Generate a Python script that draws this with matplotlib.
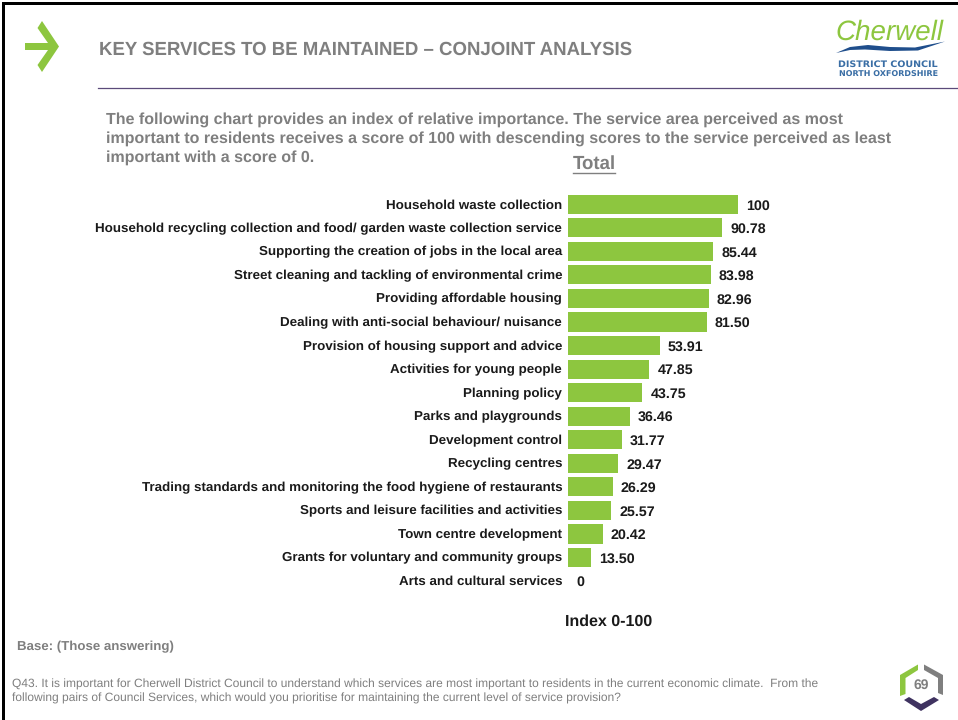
import matplotlib

matplotlib.use("Agg", force=True)
import matplotlib.pyplot as plt
from matplotlib import patches
from matplotlib.transforms import ScaledTranslation

services = [
    "Household waste collection",
    "Household recycling collection and food/ garden waste collection service",
    "Supporting the creation of jobs in the local area",
    "Street cleaning and tackling of environmental crime",
    "Providing affordable housing",
    "Dealing with anti-social behaviour/ nuisance",
    "Provision of housing support and advice",
    "Activities for young people",
    "Planning policy",
    "Parks and playgrounds",
    "Development control",
    "Recycling centres",
    "Trading standards and monitoring the food hygiene of restaurants",
    "Sports and leisure facilities and activities",
    "Town centre development",
    "Grants for voluntary and community groups",
    "Arts and cultural services",
]
scores = [100, 90.78, 85.44, 83.98, 82.96, 81.50, 53.91, 47.85, 43.75, 36.46,
          31.77, 29.47, 26.29, 25.57, 20.42, 13.50, 0]
score_labels = ["100", "90.78", "85.44", "83.98", "82.96", "81.50", "53.91", "47.85",
                "43.75", "36.46", "31.77", "29.47", "26.29", "25.57", "20.42", "13.50", "0"]

GREEN = "#8DC63F"
GREY = "#7F7F7F"
PURPLE = "#5B4A7A"
LOGO_BLUE = "#3A6EA5"
DARK = "#1A1A1A"
W, H = 958, 720

plt.rcParams["font.family"] = ["Liberation Sans", "DejaVu Sans"]
plt.rcParams["text.hinting"] = "no_hinting"

figure = plt.figure(figsize=(W / 100, H / 100), dpi=100)
figure.patch.set_facecolor("white")

# page furniture in pixel coordinates
page = figure.add_axes([0, 0, 1, 1])
page.set_xlim(0, W)
page.set_ylim(H, 0)
page.axis("off")

page.add_patch(patches.Rectangle((2, 2), W - 2, 3.3, color="black", lw=0))
page.add_patch(patches.Rectangle((2, 2), 3.3, H - 2, color="black", lw=0))
page.plot([98, W], [87.5, 87.5], color=PURPLE, linewidth=0.9)

page.add_patch(patches.Polygon(
    [[25, 43], [48, 43], [37.5, 28], [42, 21], [59, 46.5], [42, 72], [37.5, 65], [48, 50], [25, 50]],
    closed=True, facecolor=GREEN, edgecolor="none"))

page.text(99, 49.5, "KEY SERVICES TO BE MAINTAINED – CONJOINT ANALYSIS", fontsize=13.4,
          fontweight="bold", color=GREY, ha="left", va="center")

# logo
page.text(889.5, 32.5, "Cherwell", fontsize=20, style="italic", color=GREEN, ha="center", va="center")
page.add_patch(patches.Polygon(
    [[836, 53], [850, 47], [868, 45], [890, 47], [915, 47.5], [945, 41.5], [918, 50.5], [890, 51], [865, 49.5], [850, 50]],
    closed=True, facecolor="#1F4E8C", edgecolor="none"))
page.text(888, 64.5, "DISTRICT COUNCIL", fontsize=6.8, fontweight="bold", color=LOGO_BLUE,
          family="DejaVu Sans", ha="center", va="center")
page.text(888.5, 75, "NORTH OXFORDSHIRE", fontsize=5.8, fontweight="bold", color=LOGO_BLUE,
          family="DejaVu Sans", ha="center", va="center")

intro_lines = [
    "The following chart provides an index of relative importance. The service area perceived as most",
    "important to residents receives a score of 100 with descending scores to the service perceived as least",
    "important with a score of 0.",
]
for y_value, line in zip((119.5, 138.5, 157.5), intro_lines):
    page.text(106, y_value, line, fontsize=11.5, fontweight="bold", color=GREY, ha="left", va="center")

page.text(594, 163.5, "Total", fontsize=13.4, fontweight="bold", color=GREY, ha="center", va="center")
page.plot([573, 615.5], [172.5, 172.5], color=GREY, linewidth=1.0)

page.text(609, 621.5, "Index 0-100", fontsize=11.5, fontweight="bold", color=DARK,
          ha="center", va="center")
page.text(17, 646.5, "Base: (Those answering)", fontsize=9.55, fontweight="bold", color=GREY,
          ha="left", va="center")
page.text(12, 684.5, "Q43. It is important for Cherwell District Council to understand which services are most important to residents in the current economic climate.  From the",
          fontsize=8.64, color=GREY, ha="left", va="center")
page.text(12, 698.5, "following pairs of Council Services, which would you prioritise for maintaining the current level of service provision?",
          fontsize=8.64, color=GREY, ha="left", va="center")

# page number badge
page.add_patch(patches.Polygon([[900, 675], [918, 664.5], [918, 670], [905.5, 678], [905.5, 694], [900, 696]],
                               closed=True, facecolor=GREEN, edgecolor="none"))
page.add_patch(patches.Polygon([[924, 664.5], [943, 675], [943, 695], [938, 693], [938, 678], [924, 670]],
                               closed=True, facecolor=GREY, edgecolor="none"))
page.add_patch(patches.Polygon([[904, 700], [909, 697], [921, 704], [934, 697], [939, 700], [921, 711]],
                               closed=True, facecolor="#3F3260", edgecolor="none"))
page.text(921.5, 685, "69", fontsize=10, fontweight="bold", color=GREY, ha="center", va="center")

# chart
top_px, step_px = 192.5, 23.55
bottom_px = top_px + step_px * len(services)
axis = figure.add_axes([568 / W, 1 - bottom_px / H, 170 / W, (bottom_px - top_px) / H])
axis.patch.set_alpha(0)
positions = list(range(len(services)))
axis.barh(positions, scores, height=0.81, color=GREEN, edgecolor="none")
axis.set_xlim(0, 100)
axis.set_ylim(len(services) - 0.5, -0.5)
axis.set_xticks([])
axis.set_yticks(positions)
axis.set_yticklabels(services, fontsize=9.6, fontweight="bold", color=DARK)
axis.tick_params(axis="y", length=0, pad=4.2)
label_shift = ScaledTranslation(0, 0.5 / 100, figure.dpi_scale_trans)
for tick_label in axis.get_yticklabels():
    tick_label.set_transform(tick_label.get_transform() + label_shift)
for spine in axis.spines.values():
    spine.set_visible(False)
for position, score, label in zip(positions, scores, score_labels):
    axis.annotate(label, xy=(score, position), xytext=(8, -1.5), textcoords="offset pixels",
                  fontsize=10.3, fontweight="bold", color=DARK, ha="left", va="center",
                  annotation_clip=False)

figure.savefig("out.png", dpi=100)
plt.close(figure)
